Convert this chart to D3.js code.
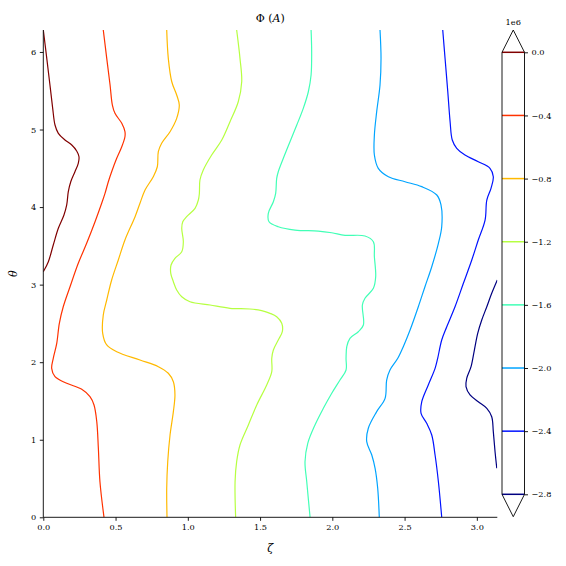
<!DOCTYPE html>
<html>
<head>
<meta charset="utf-8">
<script src="https://cdn.jsdelivr.net/npm/d3@7"></script>
<style>
  html, body { margin: 0; padding: 0; background: #fff; }
  svg { display: block; }
  text { font-family: "DejaVu Serif", serif; fill: #000; }
</style>
</head>
<body>
<svg id="chart" width="566" height="566"></svg>
<script>
// ---- data (zeta, theta) pairs, per contour level ----
const levels = [0.0, -0.4, -0.8, -1.2, -1.6, -2.0, -2.4, -2.8]; // x 1e6
const xTicks = [0.0, 0.5, 1.0, 1.5, 2.0, 2.5, 3.0];
const yTicks = [0, 1, 2, 3, 4, 5, 6];
const cbTicks = [0.0, -0.4, -0.8, -1.2, -1.6, -2.0, -2.4, -2.8];

const contour_0_0 = [
  [0.000, 6.283], [0.024, 5.918], [0.046, 5.574], [0.065, 5.273], [0.081, 5.058],
  [0.104, 4.951], [0.150, 4.865], [0.197, 4.800], [0.231, 4.723], [0.247, 4.649],
  [0.242, 4.564], [0.219, 4.456], [0.190, 4.327], [0.173, 4.198], [0.162, 4.027],
  [0.143, 3.898], [0.104, 3.726], [0.069, 3.511], [0.035, 3.296], [0.000, 3.167]
];
const contour_0_4 = [
  [0.415, 6.283], [0.439, 5.918], [0.462, 5.574], [0.478, 5.316], [0.496, 5.209],
  [0.543, 5.080], [0.565, 4.972], [0.565, 4.907], [0.543, 4.778], [0.508, 4.629],
  [0.473, 4.456], [0.450, 4.327], [0.427, 4.177], [0.404, 4.049], [0.358, 3.811],
  [0.300, 3.533], [0.242, 3.275], [0.185, 2.973], [0.138, 2.715], [0.111, 2.501],
  [0.093, 2.243], [0.069, 2.050], [0.058, 1.921], [0.081, 1.813], [0.162, 1.728],
  [0.266, 1.650], [0.323, 1.555], [0.351, 1.448], [0.370, 1.233], [0.381, 0.890],
  [0.392, 0.459], [0.420, 0.000]
];
const contour_0_8 = [
  [0.854, 6.283], [0.865, 5.918], [0.889, 5.616], [0.923, 5.445], [0.941, 5.316],
  [0.923, 5.144], [0.877, 4.972], [0.819, 4.822], [0.796, 4.714], [0.789, 4.520],
  [0.761, 4.391], [0.704, 4.220], [0.669, 4.049], [0.635, 3.876], [0.565, 3.576],
  [0.519, 3.318], [0.473, 3.060], [0.439, 2.802], [0.415, 2.609], [0.411, 2.372],
  [0.439, 2.222], [0.508, 2.135], [0.669, 2.028], [0.796, 1.942], [0.865, 1.857],
  [0.900, 1.748], [0.911, 1.577], [0.900, 1.362], [0.877, 1.061], [0.861, 0.717],
  [0.854, 0.374], [0.856, 0.000]
];
const contour_1_2 = [
  [1.338, 6.283], [1.361, 5.918], [1.373, 5.616], [1.349, 5.358], [1.292, 5.101],
  [1.235, 4.865], [1.165, 4.671], [1.107, 4.478], [1.084, 4.349], [1.080, 4.177],
  [1.073, 4.091], [1.050, 3.984], [0.992, 3.876], [0.965, 3.811], [0.958, 3.726],
  [0.969, 3.553], [0.958, 3.424], [0.911, 3.339], [0.884, 3.253], [0.882, 3.146],
  [0.900, 3.038], [0.923, 2.931], [0.958, 2.844], [1.015, 2.780], [1.154, 2.737],
  [1.292, 2.695], [1.430, 2.686], [1.511, 2.664], [1.569, 2.630], [1.615, 2.586],
  [1.650, 2.501], [1.654, 2.393], [1.626, 2.286], [1.592, 2.157], [1.581, 2.050],
  [1.581, 1.877], [1.546, 1.706], [1.477, 1.448], [1.419, 1.190], [1.361, 0.932],
  [1.338, 0.717], [1.327, 0.459], [1.331, 0.000]
];
const contour_1_6 = [
  [1.853, 6.283], [1.857, 6.003], [1.853, 5.703], [1.834, 5.487], [1.799, 5.273],
  [1.754, 5.058], [1.707, 4.843], [1.661, 4.629], [1.626, 4.456], [1.615, 4.371],
  [1.608, 4.177], [1.592, 4.069], [1.557, 3.920], [1.562, 3.811], [1.626, 3.747],
  [1.742, 3.704], [1.903, 3.691], [1.996, 3.669], [2.088, 3.636], [2.226, 3.627],
  [2.284, 3.553], [2.291, 3.360], [2.300, 3.102], [2.284, 2.953], [2.226, 2.824],
  [2.208, 2.737], [2.215, 2.479], [2.180, 2.393], [2.122, 2.308], [2.100, 2.200],
  [2.095, 2.050], [2.095, 1.899], [2.053, 1.770], [1.996, 1.599], [1.938, 1.405],
  [1.880, 1.190], [1.830, 0.954], [1.811, 0.717], [1.823, 0.459], [1.846, 0.000]
];
const contour_2_0 = [
  [2.330, 6.283], [2.337, 5.918], [2.330, 5.574], [2.307, 5.230], [2.291, 4.929],
  [2.291, 4.671], [2.318, 4.500], [2.388, 4.391], [2.503, 4.327], [2.619, 4.263],
  [2.723, 4.156], [2.752, 4.027], [2.757, 3.747], [2.734, 3.533], [2.688, 3.231],
  [2.641, 2.973], [2.595, 2.715], [2.538, 2.415], [2.491, 2.200], [2.453, 2.050],
  [2.399, 1.899], [2.376, 1.770], [2.365, 1.534], [2.307, 1.362], [2.249, 1.148],
  [2.238, 0.975], [2.273, 0.803], [2.296, 0.632], [2.314, 0.374], [2.325, 0.000]
];
const contour_2_4 = [
  [2.764, 6.283], [2.780, 5.918], [2.799, 5.487], [2.815, 5.101], [2.830, 4.865],
  [2.861, 4.758], [2.918, 4.671], [3.010, 4.585], [3.091, 4.500], [3.114, 4.391],
  [3.098, 4.242], [3.069, 4.091], [3.057, 3.833], [3.010, 3.576], [2.965, 3.318],
  [2.907, 3.017], [2.849, 2.715], [2.792, 2.457], [2.757, 2.286], [2.729, 2.050],
  [2.711, 1.921], [2.664, 1.706], [2.619, 1.490], [2.614, 1.341], [2.653, 1.212],
  [2.688, 1.061], [2.711, 0.803], [2.734, 0.459], [2.757, 0.000]
];
const contour_2_8 = [
  [3.1416, 3.060], [3.103, 2.888], [3.069, 2.715], [3.034, 2.544], [3.006, 2.372],
  [2.983, 2.157], [2.960, 1.942], [2.930, 1.792], [2.925, 1.684], [2.953, 1.577],
  [3.010, 1.490], [3.069, 1.405], [3.103, 1.297], [3.114, 1.104], [3.126, 0.846],
  [3.138, 0.632]
];
const contourLines = [
  { level: 0.0, pts: contour_0_0 },
  { level: -0.4, pts: contour_0_4 },
  { level: -0.8, pts: contour_0_8 },
  { level: -1.2, pts: contour_1_2 },
  { level: -1.6, pts: contour_1_6 },
  { level: -2.0, pts: contour_2_0 },
  { level: -2.4, pts: contour_2_4 },
  { level: -2.8, pts: contour_2_8 }
];

// ---- jet colormap ----
function interpSeg(seg, t) {
  for (let i = 1; i < seg.length; i++) {
    if (t <= seg[i][0]) {
      const a = seg[i - 1], b = seg[i];
      return a[1] + (b[1] - a[1]) * (t - a[0]) / (b[0] - a[0]);
    }
  }
  return seg[seg.length - 1][1];
}
const jetR = [[0, 0], [0.35, 0], [0.66, 1], [0.89, 1], [1, 0.5]];
const jetG = [[0, 0], [0.125, 0], [0.375, 1], [0.64, 1], [0.91, 0], [1, 0]];
const jetB = [[0, 0.5], [0.11, 1], [0.34, 1], [0.65, 0], [1, 0]];
function jet(t) {
  const c = v => Math.round(Math.max(0, Math.min(1, v)) * 255);
  return d3.rgb(c(interpSeg(jetR, t)), c(interpSeg(jetG, t)), c(interpSeg(jetB, t))).formatHex();
}
const norm = d3.scaleLinear().domain([d3.min(levels), d3.max(levels)]).range([0, 1]);
const colorOf = v => jet(norm(v));

// ---- layout ----
const svg = d3.select("#chart");
const plot = { left: 43.3, right: 497.3, top: 30, bottom: 517.3 };
const x = d3.scaleLinear().domain([0, Math.PI]).range([plot.left, plot.right]);
const y = d3.scaleLinear().domain([0, 2 * Math.PI]).range([plot.bottom, plot.top]);

svg.append("defs").append("clipPath").attr("id", "clip")
  .append("rect").attr("x", plot.left).attr("y", plot.top)
  .attr("width", plot.right - plot.left).attr("height", plot.bottom - plot.top);

const line = d3.line().x(d => x(d[0])).y(d => y(d[1])).curve(d3.curveCatmullRom.alpha(0.5));

svg.append("g").attr("clip-path", "url(#clip)")
  .selectAll("path").data(contourLines).join("path")
  .attr("d", d => line(d.pts))
  .attr("fill", "none")
  .attr("stroke", d => colorOf(d.level))
  .attr("stroke-width", 1.2)
  .attr("stroke-linejoin", "round");

// axes
const fs = 8.2;
const xAxis = d3.axisBottom(x).tickValues(xTicks).tickFormat(d3.format(".1f")).tickSize(3.5).tickPadding(3.5);
const yAxis = d3.axisLeft(y).tickValues(yTicks).tickFormat(d3.format("d")).tickSize(3.5).tickPadding(3.5);

const gx = svg.append("g").attr("transform", `translate(0,${plot.bottom})`).call(xAxis);
const gy = svg.append("g").attr("transform", `translate(${plot.left},0)`).call(yAxis);
[gx, gy].forEach(g => {
  g.select(".domain").attr("stroke", "#000").attr("stroke-width", 0.9);
  g.selectAll(".tick line").attr("stroke", "#000").attr("stroke-width", 0.9);
  g.selectAll(".tick text").attr("font-family", "DejaVu Serif").attr("font-size", fs).attr("fill", "#000");
});
gx.select(".domain").attr("d", `M${plot.left},0H${plot.right}`);
gy.select(".domain").attr("d", `M0,${plot.bottom}V${plot.top}`);

// title and labels
const title = svg.append("text").attr("x", (plot.left + plot.right) / 2).attr("y", 22)
  .attr("text-anchor", "middle").attr("font-size", 11);
title.append("tspan").text("Φ (");
title.append("tspan").attr("font-style", "italic").text("A");
title.append("tspan").text(")");

svg.append("text").attr("x", (plot.left + plot.right) / 2).attr("y", 552)
  .attr("text-anchor", "middle").attr("font-size", 11).attr("font-style", "italic").text("ζ");
svg.append("text").attr("transform", `translate(17,${(plot.top + plot.bottom) / 2}) rotate(-90)`)
  .attr("text-anchor", "middle").attr("font-size", 11).attr("font-style", "italic").text("θ");

// ---- colorbar ----
const cb = { left: 502, right: 524.5, top: 52.3, bottom: 494.3, apexTop: 30, apexBottom: 516.7 };
const cy = d3.scaleLinear().domain([d3.min(cbTicks), d3.max(cbTicks)]).range([cb.bottom, cb.top]);
const cbg = svg.append("g");
cbg.selectAll("line.lvl").data(levels).join("line").attr("class", "lvl")
  .attr("x1", cb.left).attr("x2", cb.right)
  .attr("y1", d => cy(d)).attr("y2", d => cy(d))
  .attr("stroke", d => colorOf(d)).attr("stroke-width", 1.5);
const midX = (cb.left + cb.right) / 2;
cbg.append("path")
  .attr("d", `M${cb.left},${cb.top}L${midX},${cb.apexTop}L${cb.right},${cb.top}V${cb.bottom}L${midX},${cb.apexBottom}L${cb.left},${cb.bottom}Z`)
  .attr("fill", "none").attr("stroke", "#000").attr("stroke-width", 0.9);
const cbAxis = d3.axisRight(cy).tickValues(cbTicks)
  .tickFormat(d => d === 0 ? "0.0" : d3.format(".1f")(d).replace("-", "−"))
  .tickSize(3.5).tickPadding(3.5);
const gcb = svg.append("g").attr("transform", `translate(${cb.right},0)`).call(cbAxis);
gcb.select(".domain").remove();
gcb.selectAll(".tick line").attr("stroke", "#000").attr("stroke-width", 0.9);
gcb.selectAll(".tick text").attr("font-family", "DejaVu Serif").attr("font-size", fs).attr("fill", "#000");
svg.append("text").attr("x", midX).attr("y", 25).attr("text-anchor", "middle")
  .attr("font-size", fs).text("1e6");
</script>
</body>
</html>
